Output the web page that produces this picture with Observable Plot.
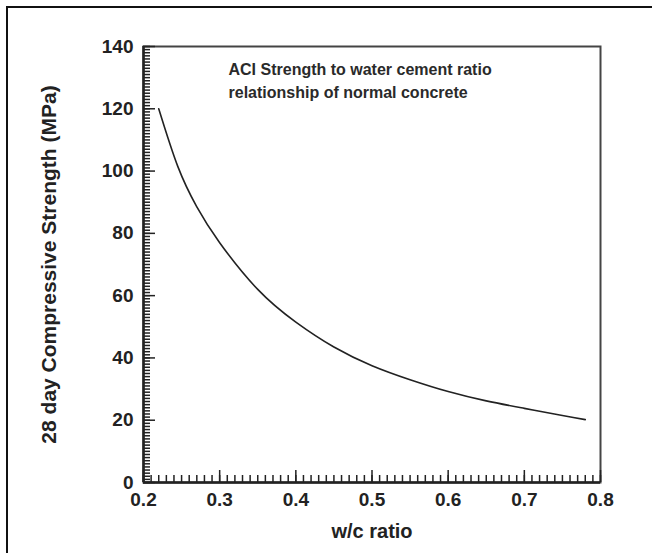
<!DOCTYPE html>
<html>
<head>
<meta charset="utf-8">
<script src="https://cdn.jsdelivr.net/npm/d3@7"></script>
<script src="https://cdn.jsdelivr.net/npm/@observablehq/plot@0.6"></script>
<style>
  html, body { margin: 0; padding: 0; background: #fff; }
  #wrap { position: relative; width: 652px; height: 553px; overflow: hidden; background: #fff; }
  #chart { position: absolute; left: 0; top: 0; z-index: 1; }
  #border { position: absolute; left: 6px; top: 6px; width: 700px; height: 600px; z-index: 2;
            border-top: 2px solid #111; border-left: 2px solid #111; pointer-events: none; }
  #chart g[aria-label="y-axis label"] text { font-size: 21px; }
  #chart g[aria-label="x-axis label"] text { font-size: 20px; }
</style>
</head>
<body>
<div id="wrap"><div id="chart"></div><div id="border"></div></div>
<script>
// Curve (w/c ratio vs 28-day compressive strength, MPa)
const wcRatio  = [0.22, 0.245, 0.27, 0.30, 0.35, 0.40, 0.45, 0.50, 0.55, 0.60, 0.65, 0.70, 0.75, 0.78];
const strength = [120, 101.5, 88.5, 77, 62, 51.5, 43.5, 37.5, 33, 29.2, 26.2, 23.8, 21.5, 20.2];

const xMajorTicks = [0.2, 0.3, 0.4, 0.5, 0.6, 0.7, 0.8];
const yMajorTicks = [0, 20, 40, 60, 80, 100, 120, 140];
const xMinorTicks = d3.range(20, 81).map(d => d / 100);
const yMinorTicks = d3.range(0, 141);

const xTitle = "w/c ratio";
const yTitle = "28 day Compressive Strength (MPa)";
const note = "ACI Strength to water cement ratio\nrelationship of normal concrete";

const data = wcRatio.map((w, i) => ({w, s: strength[i]}));

const ink = "#222";

const chart = Plot.plot({
  width: 652,
  height: 553,
  marginLeft: 143,
  marginRight: 52,
  marginTop: 46,
  marginBottom: 71,
  style: {fontFamily: "'Liberation Sans', Arial, sans-serif", fontWeight: "bold", fontSize: "19px", color: ink, background: "white"},
  x: {domain: [0.2, 0.8]},
  y: {domain: [0, 140]},
  marks: [
    Plot.frame({stroke: "#444", strokeWidth: 2}),
    // minor ticks (inward)
    Plot.axisX(xMinorTicks, {tickSize: -7, fill: "none", stroke: ink, strokeWidth: 1.5, label: null}),
    Plot.axisY(yMinorTicks, {tickSize: -7, fill: "none", stroke: ink, strokeWidth: 1.5, label: null}),
    // major ticks (inward)
    Plot.axisX(xMajorTicks, {tickSize: -12, fill: "none", stroke: ink, strokeWidth: 1.5, label: null}),
    Plot.axisY(yMajorTicks, {tickSize: -12, fill: "none", stroke: ink, strokeWidth: 1.5, label: null}),
    // tick labels + titles
    Plot.axisX(xMajorTicks, {tickSize: 0, tickPadding: 10, tickFormat: d3.format(".1f"), fontSize: 19,
      label: xTitle, labelAnchor: "center", labelArrow: "none", labelOffset: 55}),
    Plot.axisY(yMajorTicks, {tickSize: 0, tickPadding: 10, fontSize: 19,
      label: yTitle, labelAnchor: "center", labelArrow: "none", labelOffset: 102}),
    // axis lines
    Plot.ruleY([0], {stroke: ink, strokeWidth: 2.5}),
    Plot.ruleX([0.2], {stroke: ink, strokeWidth: 2.5}),
    // curve
    Plot.line(data, {x: "w", y: "s", curve: "natural", stroke: ink, strokeWidth: 1.6}),
    // annotation
    Plot.text([note], {frameAnchor: "top-left", dx: 85, dy: 12, text: d => d, textAnchor: "start",
      lineAnchor: "top", lineHeight: 1.44, fontSize: 16, fill: "#2a2a2a"})
  ]
});

document.getElementById("chart").appendChild(chart);
</script>
</body>
</html>
